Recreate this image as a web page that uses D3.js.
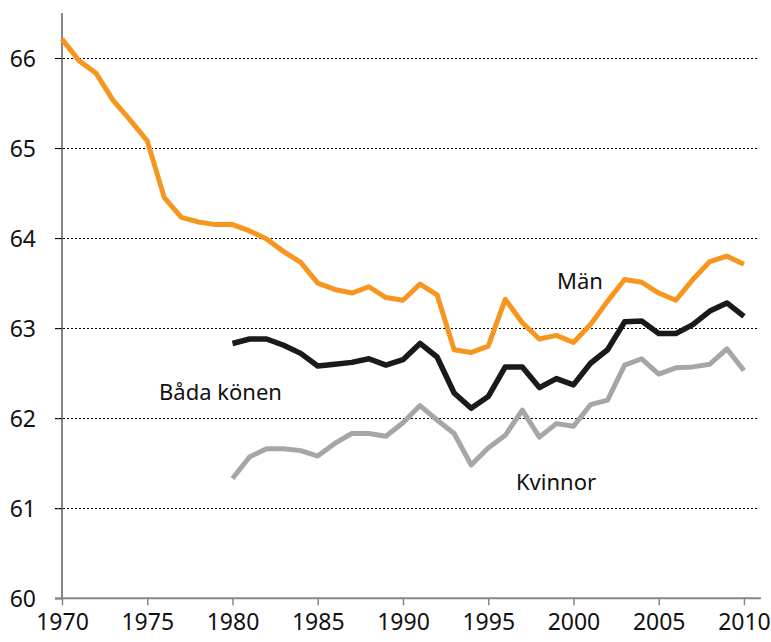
<!DOCTYPE html>
<html>
<head>
<meta charset="utf-8">
<script src="https://cdn.jsdelivr.net/npm/d3@7"></script>
<style>
  body { margin: 0; background: #fff; }
  svg text { font-family: "Noto Sans", "Open Sans", sans-serif; fill: #111; }
</style>
</head>
<body>
<div id="chart"></div>
<script>
const years = d3.range(1970, 2011);
const yearsFrom1980 = d3.range(1980, 2011);

// Män, 1970-2010
const men = [66.21, 65.97, 65.83, 65.53, 65.31, 65.08, 64.45, 64.23, 64.18, 64.15,
  64.15, 64.08, 63.99, 63.85, 63.73, 63.50, 63.43, 63.39, 63.46, 63.34,
  63.31, 63.49, 63.37, 62.76, 62.73, 62.80, 63.32, 63.06, 62.88, 62.92,
  62.84, 63.04, 63.30, 63.54, 63.51, 63.39, 63.31, 63.54, 63.74, 63.80, 63.71];

// Båda könen, 1980-2010
const both = [62.83, 62.88, 62.88, 62.81, 62.72, 62.58, 62.60, 62.62, 62.66, 62.59,
  62.65, 62.83, 62.68, 62.28, 62.11, 62.24, 62.57, 62.57, 62.34, 62.44,
  62.37, 62.61, 62.76, 63.07, 63.08, 62.94, 62.94, 63.04, 63.19, 63.28, 63.13];

// Kvinnor, 1980-2010
const women = [61.33, 61.57, 61.66, 61.66, 61.64, 61.58, 61.72, 61.83, 61.83, 61.80,
  61.95, 62.14, 61.98, 61.83, 61.48, 61.67, 61.81, 62.09, 61.79, 61.94,
  61.91, 62.15, 62.20, 62.59, 62.66, 62.49, 62.56, 62.57, 62.60, 62.77, 62.53];

const yTicks = [60, 61, 62, 63, 64, 65, 66];
const xTicks = [1970, 1975, 1980, 1985, 1990, 1995, 2000, 2005, 2010];

const w = 771, h = 642;

const svg = d3.select("#chart").append("svg")
  .attr("width", w)
  .attr("height", h);

const x = d3.scaleLinear().domain([1970, 2011]).range([62, 761]);
const y = d3.scaleLinear().domain([60, 66.5]).range([598.3, 13]);

// gridlines (dotted)
svg.append("g")
  .selectAll("line")
  .data(yTicks.filter(d => d > 60))
  .enter().append("line")
  .attr("x1", 55).attr("x2", 759)
  .attr("y1", d => Math.round(y(d)) + 0.5)
  .attr("y2", d => Math.round(y(d)) + 0.5)
  .attr("stroke", "#000")
  .attr("stroke-width", 1)
  .attr("stroke-dasharray", "2,2");

// y axis
const yAxis = d3.axisLeft(y).tickValues(yTicks).tickSize(7).tickPadding(6).tickFormat(d3.format("d"));
const gy = svg.append("g")
  .attr("transform", "translate(62,0)")
  .call(yAxis);
gy.select(".domain").attr("stroke", "#868686").attr("stroke-width", 2)
  .attr("d", "M0," + y(66.5) + "V" + y(60));
gy.selectAll(".tick line").attr("stroke", "#000").attr("stroke-width", 1);
gy.selectAll(".tick text").style("font-size", "23px").attr("dy", "0.36em").attr("x", -26);

// x axis
const xAxis = d3.axisBottom(x).tickValues(xTicks).tickSize(7).tickPadding(8).tickFormat(d3.format("d"));
const gx = svg.append("g")
  .attr("transform", "translate(0," + y(60) + ")")
  .call(xAxis);
gx.select(".domain").attr("stroke", "#868686").attr("stroke-width", 2)
  .attr("d", "M55,0H761");
gx.selectAll(".tick line").attr("stroke", "#868686").attr("stroke-width", 1.5);
gx.selectAll(".tick text").style("font-size", "23px").attr("dy", "0.72em");

// lines
const line = d3.line()
  .x(d => x(d[0]))
  .y(d => y(d[1]));

const series = [
  { name: "Kvinnor", yrs: yearsFrom1980, vals: women, color: "#a6a6a6", width: 5 },
  { name: "Båda könen", yrs: yearsFrom1980, vals: both, color: "#1a1a1a", width: 5.5 },
  { name: "Män", yrs: years, vals: men, color: "#f7961f", width: 5 }
];

series.forEach(s => {
  svg.append("path")
    .datum(s.yrs.map((yr, i) => [yr, s.vals[i]]))
    .attr("fill", "none")
    .attr("stroke", s.color)
    .attr("stroke-width", s.width)
    .attr("stroke-linejoin", "round")
    .attr("d", line);
});

// labels
const labels = [
  { text: "Män", x: 557, y: 289 },
  { text: "Båda könen", x: 159, y: 400 },
  { text: "Kvinnor", x: 516, y: 490 }
];
svg.selectAll(".lbl")
  .data(labels)
  .enter().append("text")
  .attr("class", "lbl")
  .attr("x", d => d.x)
  .attr("y", d => d.y)
  .style("font-size", "22px")
  .text(d => d.text);
</script>
</body>
</html>
